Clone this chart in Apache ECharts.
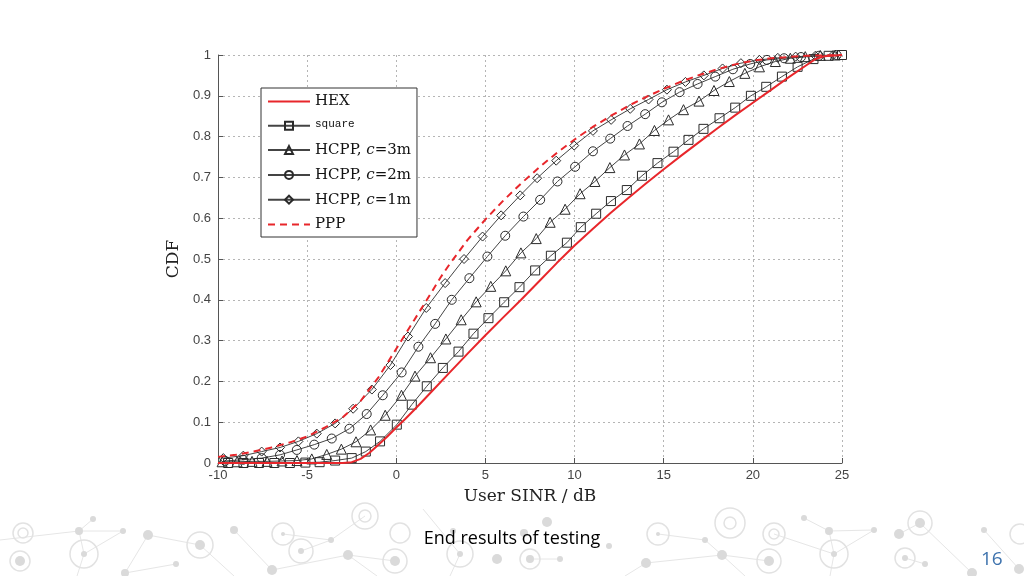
<!DOCTYPE html>
<html>
<head>
<meta charset="utf-8">
<script src="https://cdn.jsdelivr.net/npm/echarts@6/dist/echarts.min.js"></script>
<style>
  html, body { margin: 0; padding: 0; background: #ffffff; }
  #chart { width: 1024px; height: 576px; }
</style>
</head>
<body>
<div id="chart"></div>
<script>
// ---------- data ----------
const xTicks = [-10, -5, 0, 5, 10, 15, 20, 25];
const yTicks = [0, 0.1, 0.2, 0.3, 0.4, 0.5, 0.6, 0.7, 0.8, 0.9, 1];

const seriesNames = ['HEX', 'square', 'HCPP, c=3m', 'HCPP, c=2m', 'HCPP, c=1m', 'PPP'];

const hexX = [-10, -5, -3, -2.5, -2, -1.5, -1, -0.5, 0, 0.5, 1, 2, 3, 4, 5, 6, 7, 8, 9, 10, 11, 12, 13, 14, 15, 16, 17, 18, 19, 20, 21, 22, 23, 23.5, 24, 25];
const hexY = [0, 0, 0, 0.002, 0.01, 0.025, 0.045, 0.065, 0.087, 0.108, 0.13, 0.176, 0.222, 0.268, 0.313, 0.357, 0.40, 0.445, 0.49, 0.533, 0.573, 0.612, 0.649, 0.685, 0.72, 0.754, 0.787, 0.82, 0.852, 0.883, 0.914, 0.945, 0.975, 0.99, 0.997, 1.0];

const squareX = [-9.43, -8.57, -7.70, -6.84, -5.97, -5.10, -4.30, -3.43, -2.50, -1.71, -0.91, 0.03, 0.87, 1.71, 2.61, 3.49, 4.33, 5.17, 6.05, 6.91, 7.79, 8.67, 9.57, 10.35, 11.21, 12.04, 12.93, 13.78, 14.65, 15.55, 16.39, 17.23, 18.13, 19.01, 19.89, 20.75, 21.63, 22.51, 23.40, 24.25, 25.0];
const squareY = [0, 0, 0, 0, 0, 0.001, 0.002, 0.006, 0.012, 0.028, 0.053, 0.094, 0.143, 0.188, 0.233, 0.273, 0.317, 0.355, 0.394, 0.431, 0.472, 0.508, 0.540, 0.578, 0.611, 0.642, 0.669, 0.704, 0.735, 0.763, 0.792, 0.819, 0.845, 0.871, 0.900, 0.922, 0.947, 0.971, 0.99, 0.998, 1.0];

const hcpp3X = [-9.77, -8.93, -8.09, -7.25, -6.41, -5.57, -4.74, -3.90, -3.08, -2.26, -1.44, -0.62, 0.29, 1.05, 1.92, 2.78, 3.64, 4.48, 5.30, 6.14, 6.99, 7.85, 8.63, 9.47, 10.31, 11.14, 11.98, 12.80, 13.64, 14.48, 15.27, 16.11, 16.98, 17.82, 18.68, 19.55, 20.37, 21.26, 22.10, 22.94, 23.78, 24.62];
const hcpp3Y = [0.003, 0.003, 0.004, 0.004, 0.005, 0.006, 0.010, 0.021, 0.034, 0.052, 0.081, 0.117, 0.166, 0.213, 0.258, 0.304, 0.351, 0.395, 0.433, 0.471, 0.515, 0.55, 0.59, 0.622, 0.66, 0.69, 0.724, 0.755, 0.782, 0.815, 0.841, 0.866, 0.887, 0.913, 0.935, 0.955, 0.971, 0.984, 0.992, 0.996, 0.999, 1.0];

const hcpp2X = [-9.6, -8.6, -7.55, -6.52, -5.58, -4.6, -3.62, -2.63, -1.66, -0.76, 0.3, 1.24, 2.18, 3.11, 4.1, 5.11, 6.11, 7.13, 8.07, 9.04, 10.03, 11.03, 12.0, 12.97, 13.96, 14.9, 15.89, 16.9, 17.89, 18.88, 19.85, 20.79, 21.75, 22.7, 23.7, 24.7];
const hcpp2Y = [0.005, 0.008, 0.012, 0.02, 0.032, 0.045, 0.06, 0.084, 0.12, 0.166, 0.222, 0.285, 0.341, 0.40, 0.453, 0.506, 0.557, 0.604, 0.645, 0.69, 0.726, 0.764, 0.795, 0.826, 0.855, 0.884, 0.909, 0.929, 0.947, 0.965, 0.978, 0.988, 0.992, 0.995, 0.998, 1.0];

const hcpp1X = [-9.7, -8.58, -7.55, -6.52, -5.49, -4.46, -3.43, -2.42, -1.37, -0.33, 0.66, 1.68, 2.74, 3.8, 4.84, 5.88, 6.95, 7.9, 8.97, 9.98, 11.03, 12.05, 13.12, 14.15, 15.18, 16.22, 17.25, 18.3, 19.33, 20.37, 21.4, 22.4, 23.5, 24.5];
const hcpp1Y = [0.012, 0.018, 0.028, 0.038, 0.053, 0.072, 0.097, 0.133, 0.18, 0.24, 0.31, 0.38, 0.441, 0.50, 0.555, 0.607, 0.656, 0.698, 0.741, 0.778, 0.814, 0.841, 0.868, 0.891, 0.915, 0.934, 0.95, 0.967, 0.98, 0.988, 0.993, 0.996, 0.998, 1.0];

const pppX = [-10, -9, -8, -7, -6, -5, -4, -3, -2, -1, -0.5, 0, 0.5, 1, 1.5, 2, 2.5, 3, 4, 5, 6, 7, 8, 9, 10, 11, 12, 13, 14, 15, 16, 17, 18, 19, 20, 21, 22, 23, 24, 25];
const pppY = [0.015, 0.02, 0.028, 0.038, 0.05, 0.065, 0.087, 0.112, 0.152, 0.21, 0.245, 0.28, 0.315, 0.35, 0.385, 0.42, 0.456, 0.488, 0.547, 0.597, 0.643, 0.685, 0.724, 0.76, 0.793, 0.823, 0.85, 0.875, 0.897, 0.917, 0.935, 0.951, 0.965, 0.977, 0.986, 0.992, 0.995, 0.998, 0.999, 1.0];

const captionText = 'End results of testing';
const pageNumber = '16';

// ---------- decorative slide background (not data) ----------
const decoDots = [[93,519,3],[79,531,4],[123,531,3],[148,535,5],[84,554,3],[20,561,5],[200,545,5],[234,530,4],[176,564,3],[125,573,4],[272,570,5],[348,555,5],[331,540,3],[301,551,3],[283,534,2],[395,561,5],[460,554,3],[497,559,5],[453,531,3],
  [547,522,5],[524,533,4],[560,559,3],[530,559,4],[609,546,3],[658,534,2],[705,540,3],[722,555,5],[646,563,5],[769,561,5],[804,518,3],[829,531,4],[874,530,3],[834,554,3],[899,534,5],[920,523,5],[905,558,3],[925,564,3],[984,530,3],[972,573,5],[1019,569,5]];
const decoRings = [[84,554,14],[20,561,10],[200,545,13],[301,551,12],[283,534,11],[365,516,13],[365,516,6],[395,561,12],[400,533,10],[23,533,10],[23,533,5],[460,554,13],
  [530,559,10],[658,534,11],[730,523,15],[730,523,6],[769,561,12],[774,534,11],[774,534,5],[834,554,14],[920,523,12],[905,558,10],[1020,534,10]];
const decoLines = [[79,531,123,531],[79,531,93,519],[84,554,123,531],[84,554,79,531],[148,535,200,545],[200,545,234,576],[272,570,348,555],[348,555,395,561],[331,540,365,516],[301,551,331,540],[283,534,331,540],[348,555,377,576],[125,573,176,564],[148,535,125,573],[423,509,460,554],[0,540,79,531],[84,554,77,576],[460,554,450,576],[234,530,272,570],
  [804,518,829,531],[829,531,874,530],[829,531,834,554],[834,554,874,530],[646,563,722,555],[722,555,705,540],[705,540,658,534],[722,555,769,561],[774,534,834,554],[899,534,920,523],[920,523,972,573],[905,558,925,564],[984,530,1019,569],[646,563,625,576],[834,554,830,576],[722,555,745,576],[560,559,530,559]];

function pairs(xs, ys) { return xs.map((x, i) => [x, ys[i]]); }

const GRAY = '#444';
const RED = '#e8262b';
const SERIF = '"DejaVu Serif", "Liberation Serif", serif';

function markerSeries(name, xs, ys, symbol, size) {
  return {
    name: name, type: 'line', data: pairs(xs, ys),
    symbol: symbol, symbolSize: size, showSymbol: true, showAllSymbol: true,
    lineStyle: { color: GRAY, width: 1 },
    itemStyle: { color: 'rgba(255,255,255,0)', borderColor: '#2a2a2a', borderWidth: 1 },
    z: 3
  };
}

function redSeries(name, xs, ys, dash) {
  return {
    name: name, type: 'line', data: pairs(xs, ys),
    symbol: 'circle', symbolSize: 0, showSymbol: false,
    lineStyle: { color: RED, width: 2, type: dash ? [7, 5] : 'solid' },
    itemStyle: { color: 'rgba(0,0,0,0)', borderWidth: 0 },
    emphasis: { disabled: true },
    z: 4
  };
}

const graphics = [];
decoLines.forEach(l => graphics.push({ type: 'line', silent: true, z: -10,
  shape: { x1: l[0], y1: l[1], x2: l[2], y2: l[3] }, style: { stroke: '#e6e6e6', lineWidth: 1 } }));
decoRings.forEach(c => graphics.push({ type: 'circle', silent: true, z: -10,
  shape: { cx: c[0], cy: c[1], r: c[2] }, style: { fill: 'none', stroke: '#e2e2e2', lineWidth: 1.5 } }));
decoDots.forEach(c => graphics.push({ type: 'circle', silent: true, z: -10,
  shape: { cx: c[0], cy: c[1], r: c[2] }, style: { fill: '#dadada' } }));
graphics.push({ type: 'text', left: 'center', top: 530, z: 10,
  style: { text: captionText, font: '18px "Liberation Sans Narrow", "Open Sans", sans-serif', fill: '#000' } });
graphics.push({ type: 'text', left: 981, top: 550, z: 10,
  style: { text: pageNumber, font: '19px "Open Sans", sans-serif', fill: '#3d72ad' } });

const chart = echarts.init(document.getElementById('chart'), null, { renderer: 'canvas' });
chart.setOption({
  animation: false,
  backgroundColor: '#ffffff',
  grid: { left: 218, right: 182, top: 55, bottom: 113, containLabel: false },
  xAxis: {
    type: 'value', min: xTicks[0], max: xTicks[xTicks.length - 1], interval: 5,
    name: 'User SINR / dB', nameLocation: 'middle', nameGap: 25,
    nameTextStyle: { fontFamily: SERIF, fontSize: 17, color: '#222' },
    axisLine: { show: true, onZero: false, lineStyle: { color: '#555', width: 1 } },
    axisTick: { show: true, inside: true, length: 5, lineStyle: { color: '#555' } },
    axisLabel: { color: '#444', fontSize: 13, fontFamily: '"Liberation Sans", Arial, sans-serif', margin: 6 },
    splitLine: { show: true, lineStyle: { color: '#b5b5b5', type: [2, 3], width: 1 } }
  },
  yAxis: {
    type: 'value', min: yTicks[0], max: yTicks[yTicks.length - 1], interval: 0.1,
    name: 'CDF', nameLocation: 'middle', nameGap: 22, nameRotate: 90,
    nameTextStyle: { fontFamily: SERIF, fontSize: 17, color: '#222' },
    axisLine: { show: true, onZero: false, lineStyle: { color: '#555', width: 1 } },
    axisTick: { show: true, inside: true, length: 5, lineStyle: { color: '#555' } },
    axisLabel: { color: '#444', fontSize: 13, fontFamily: '"Liberation Sans", Arial, sans-serif', margin: 7,
      formatter: v => String(Math.round(v * 10) / 10) },
    splitLine: { show: true, lineStyle: { color: '#b5b5b5', type: [2, 3], width: 1 } }
  },
  legend: {
    orient: 'vertical', left: 261, top: 88,
    data: seriesNames,
    backgroundColor: '#fff', borderColor: '#333', borderWidth: 1, borderRadius: 0,
    padding: [6, 6, 5, 6], itemGap: 9.8, itemWidth: 42, itemHeight: 10,
    textStyle: { fontFamily: SERIF, fontSize: 15, color: '#111', lineHeight: 14,
      rich: {
        n: { fontFamily: SERIF, fontSize: 15, color: '#111', lineHeight: 14 },
        it: { fontFamily: SERIF, fontSize: 15, fontStyle: 'italic', color: '#111', lineHeight: 14 },
        mono: { fontFamily: '"Liberation Mono", "DejaVu Sans Mono", monospace', fontSize: 11, color: '#111', lineHeight: 14, verticalAlign: 'top' }
      } },
    formatter: function (name) {
      if (name === 'square') return '{mono|square}';
      const m = name.match(/^HCPP, c=(.*)$/);
      if (m) return '{n|HCPP, }{it|c}{n|=' + m[1] + '}';
      return '{n|' + name + '}';
    }
  },
  series: [
    redSeries(seriesNames[0], hexX, hexY, false),
    markerSeries(seriesNames[1], squareX, squareY, 'rect', 9),
    markerSeries(seriesNames[2], hcpp3X, hcpp3Y, 'triangle', 10),
    markerSeries(seriesNames[3], hcpp2X, hcpp2Y, 'circle', 9),
    markerSeries(seriesNames[4], hcpp1X, hcpp1Y, 'diamond', 9),
    redSeries(seriesNames[5], pppX, pppY, true)
  ],
  graphic: graphics
});
</script>
</body>
</html>
